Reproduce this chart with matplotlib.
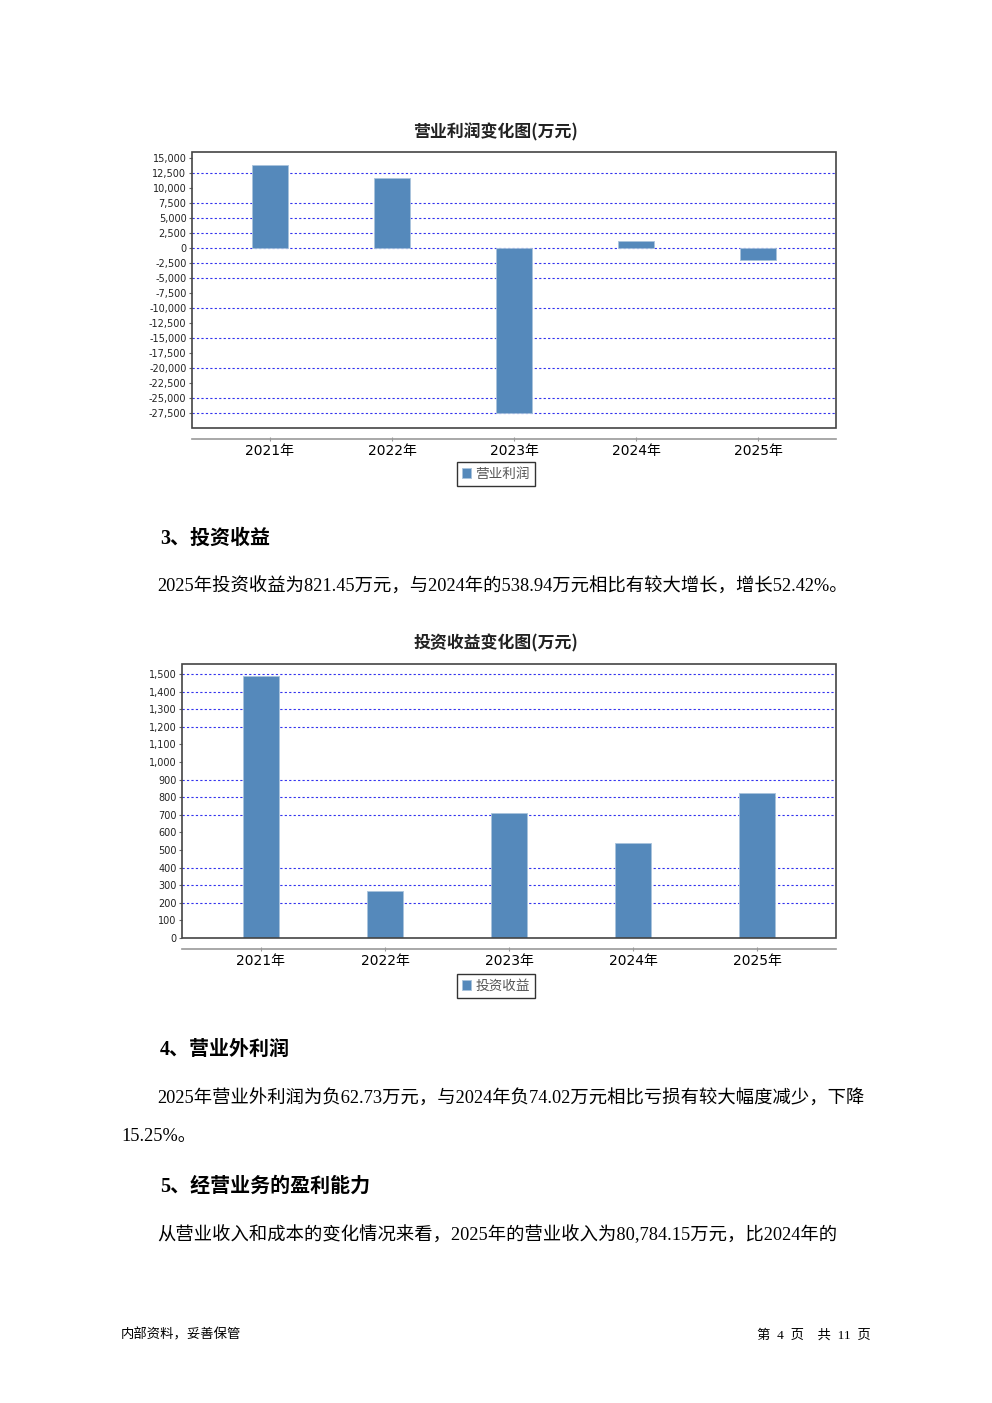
import matplotlib
matplotlib.use("Agg")
import matplotlib.pyplot as plt
from matplotlib.patches import Rectangle

# data
years = ["2021年", "2022年", "2023年", "2024年", "2025年"]
op_profit = [13800, 11600, -27550, 1150, -2000]
inv_income = [1486, 269, 713, 538.94, 821.45]

op_ticks = list(range(-27500, 15001, 2500))
op_grid = [12500, 7500, 5000, 2500, 0, -2500, -5000, -10000, -15000, -20000, -25000, -27500]
inv_ticks = list(range(0, 1501, 100))
inv_grid = [1500, 1400, 1300, 1200, 900, 800, 700, 400, 300, 200]

plt.rcParams["font.family"] = ["DejaVu Sans", "Noto Sans CJK SC"]

W, H = 992, 1403
BAR = "#5589bb"
GRID = "#3333ee"
CJK = ["Noto Sans CJK SC", "DejaVu Sans"]
SERIF = ["Liberation Serif", "Noto Sans CJK SC"]

fig = plt.figure(figsize=(W / 100, H / 100), dpi=100)


def box(x0, y0, x1, y1):
    return [x0 / W, 1 - y1 / H, (x1 - x0) / W, (y1 - y0) / H]


def bar_chart(rect, values, ylim, ticks, grid, xlim, width, title, title_y, label, legend_y):
    ax = fig.add_axes(rect)
    ax.bar(range(len(years)), values, width=width, color=BAR, edgecolor="#a9c3dc",
           linewidth=0.6, zorder=3, label=label)
    ax.set_xlim(*xlim)
    ax.set_ylim(*ylim)
    ax.set_yticks(ticks)
    ax.set_yticklabels([f"{t:,}" for t in ticks], fontsize=7, color="#222222")
    for g in grid:
        ax.axhline(g, color=GRID, lw=0.8, ls=(0, (2, 2)), zorder=1)
    ax.set_xticks(range(len(years)))
    ax.set_xticklabels(years, fontsize=7.5, color="#333333")
    ax.tick_params(axis="y", length=2, pad=2, color="#666666")
    ax.tick_params(axis="x", length=3, direction="inout", pad=2, color="#999999")
    for s in ("top", "left", "right"):
        ax.spines[s].set_visible(False)
    ax.spines["bottom"].set_position(("outward", 8))
    ax.spines["bottom"].set_color("#999999")
    ax.spines["bottom"].set_linewidth(1.2)
    ax.add_patch(Rectangle((0, 0), 1, 1, transform=ax.transAxes, fill=False,
                           ec="#444444", lw=1.2, zorder=4, clip_on=False))
    fig.text(0.5, 1 - title_y / H, title, ha="center", va="center", fontsize=12.2,
             fontweight="bold", family=CJK, color="#222222")
    leg = ax.legend(loc="center", bbox_to_anchor=(0.5, 1 - legend_y / H),
                    bbox_transform=fig.transFigure,
                    prop={"family": CJK, "size": 9.8}, frameon=True, fancybox=False,
                    handlelength=0.7, handleheight=0.7, handletextpad=0.3,
                    borderpad=0.35, borderaxespad=0)
    leg.get_frame().set_edgecolor("black")
    leg.get_frame().set_linewidth(1.0)
    for t in leg.get_texts():
        t.set_color("#555555")
    return ax


bar_chart(box(192, 152, 836, 428), op_profit, (-30000, 16000), op_ticks, op_grid,
          (-0.639, 4.639), 0.295, "营业利润变化图(万元)", 132, "营业利润", 474)
bar_chart(box(182, 664, 836, 938), inv_income, (0, 1557), inv_ticks, inv_grid,
          (-0.637, 4.637), 0.29, "投资收益变化图(万元)", 643, "投资收益", 986)


def txt(x, y, s, size=12, bold=False, ha="left"):
    fig.text(x / W, 1 - (y + 2) / H, s, ha=ha, va="center", fontsize=size,
             fontweight="bold" if bold else "normal", family=SERIF, color="black")


txt(160, 537, "3、投资收益", 14.4, True)
txt(157, 585, "2025年投资收益为821.45万元，与2024年的538.94万元相比有较大增长，增长52.42%。", 13.2)
txt(160, 1048, "4、营业外利润", 14.4, True)
txt(157, 1097, "2025年营业外利润为负62.73万元，与2024年负74.02万元相比亏损有较大幅度减少，下降", 13.2)
txt(121, 1135, "15.25%。", 13.2)
txt(160, 1185, "5、经营业务的盈利能力", 14.4, True)
txt(157, 1233, "从营业收入和成本的变化情况来看，2025年的营业收入为80,784.15万元，比2024年的", 13.2)
txt(121, 1333, "内部资料，妥善保管", 9.6)
txt(871, 1333, "第  4  页    共  11  页", 9.6, ha="right")

fig.savefig("out.png", dpi=100, facecolor="white")
